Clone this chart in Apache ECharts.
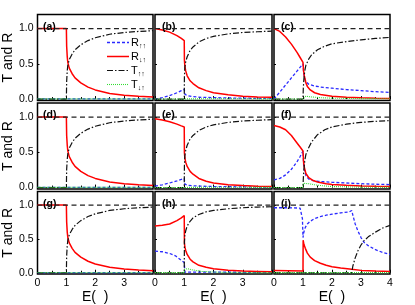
<!DOCTYPE html>
<html><head><meta charset="utf-8">
<script src="https://cdn.jsdelivr.net/npm/echarts@6/dist/echarts.min.js"></script>
<style>html,body{margin:0;padding:0;background:#fff}#c{width:415px;height:305px}</style>
</head><body><div id="c"></div>
<script>
// tick labels
const xTickValues = [0, 1, 2, 3, 4];
const yTickValues = [0, 0.5, 1.0];
const panelLabels = ['(a)','(b)','(c)','(d)','(e)','(f)','(g)','(h)','(i)'];
const seriesBase = ['R','R','T','T'];
const seriesSub = ['↑↑','↓↑','↑↑','↓↑'];
const sumLine = [[0,1],[4,1]];

// panel (a) [E, value]
const aRuu = [[0,0.003],[4,0.003]];
const aRdu = [[0,1],[1,1],[1.01,0.75],[1.03,0.6],[1.05,0.52],[1.1,0.44],[1.2,0.36],[1.3,0.3],[1.5,0.23],[1.75,0.17],[2,0.13],[2.5,0.08],[3,0.055],[3.5,0.04],[4,0.03]];
const aTuu = [[0,0],[1,0],[1.01,0.25],[1.03,0.4],[1.05,0.48],[1.1,0.56],[1.2,0.64],[1.3,0.7],[1.5,0.77],[1.75,0.83],[2,0.87],[2.5,0.92],[3,0.945],[3.5,0.96],[4,0.97]];
const aTdu = [[0,0.003],[4,0.003]];
// panel (b)
const bRuu = [[0,0],[0.25,0.02],[0.5,0.05],[0.75,0.09],[0.9,0.12],[1,0.14],[1.02,0.07],[1.1,0.05],[1.3,0.035],[1.6,0.025],[2,0.02],[3,0.012],[4,0.01]];
const bRdu = [[0,1],[0.25,0.98],[0.5,0.95],[0.75,0.9],[0.9,0.86],[1,0.83],[1.005,0.56],[1.02,0.47],[1.05,0.4],[1.1,0.33],[1.2,0.26],[1.3,0.22],[1.5,0.16],[1.75,0.12],[2,0.09],[2.5,0.06],[3,0.04],[3.5,0.03],[4,0.025]];
const bTuu = [[0,0],[1,0],[1.005,0.3],[1.02,0.45],[1.05,0.53],[1.1,0.6],[1.2,0.69],[1.3,0.74],[1.5,0.81],[1.75,0.86],[2,0.89],[2.5,0.925],[3,0.945],[3.5,0.955],[4,0.965]];
const bTdu = [[0,0.002],[1,0.002],[1.05,0.012],[2,0.006],[4,0.003]];
// panel (c)
const cRuu = [[0,0],[0.2,0.1],[0.4,0.2],[0.6,0.3],[0.8,0.4],[1,0.5],[1.02,0.38],[1.05,0.3],[1.1,0.25],[1.2,0.21],[1.4,0.185],[1.7,0.165],[2,0.155],[2.5,0.135],[3,0.12],[3.5,0.105],[4,0.095]];
const cRdu = [[0,1],[0.2,0.96],[0.4,0.88],[0.6,0.78],[0.8,0.66],[0.9,0.59],[1,0.52],[1.02,0.4],[1.05,0.32],[1.1,0.23],[1.15,0.18],[1.25,0.13],[1.4,0.09],[1.6,0.065],[2,0.04],[2.5,0.025],[3,0.018],[3.5,0.013],[4,0.01]];
const cTuu = [[0,0],[1,0],[1.01,0.15],[1.03,0.28],[1.06,0.4],[1.1,0.48],[1.2,0.57],[1.3,0.63],[1.5,0.7],[1.75,0.75],[2,0.785],[2.5,0.815],[3,0.84],[3.5,0.86],[4,0.875]];
const cTdu = [[0,0.002],[1,0.002],[1.03,0.03],[1.1,0.04],[1.3,0.03],[1.6,0.02],[2,0.013],[3,0.007],[4,0.005]];
// panel (d)
const dRuu = [[0,0.003],[4,0.003]];
const dRdu = [[0,1],[1,1],[1.01,0.74],[1.03,0.6],[1.05,0.52],[1.1,0.44],[1.2,0.36],[1.3,0.3],[1.5,0.23],[1.75,0.17],[2,0.13],[2.5,0.08],[3,0.055],[3.5,0.04],[4,0.03]];
const dTuu = [[0,0],[1,0],[1.01,0.26],[1.03,0.4],[1.05,0.48],[1.1,0.56],[1.2,0.64],[1.3,0.7],[1.5,0.77],[1.75,0.83],[2,0.87],[2.5,0.92],[3,0.945],[3.5,0.96],[4,0.97]];
const dTdu = [[0,0.003],[4,0.003]];
// panel (e)
const eRuu = [[0,0.02],[0.25,0.04],[0.5,0.065],[0.75,0.095],[0.9,0.115],[1,0.13],[1.02,0.05],[1.1,0.035],[1.3,0.025],[1.6,0.02],[2,0.015],[3,0.01],[4,0.008]];
const eRdu = [[0,0.975],[0.25,0.96],[0.5,0.935],[0.75,0.9],[0.9,0.875],[1,0.86],[1.005,0.5],[1.02,0.42],[1.05,0.36],[1.1,0.3],[1.2,0.23],[1.3,0.19],[1.5,0.13],[1.75,0.09],[2,0.065],[2.5,0.04],[3,0.028],[3.5,0.02],[4,0.015]];
const eTuu = [[0,0],[1,0],[1.005,0.3],[1.02,0.45],[1.05,0.53],[1.1,0.6],[1.2,0.69],[1.3,0.74],[1.5,0.81],[1.75,0.86],[2,0.89],[2.5,0.925],[3,0.945],[3.5,0.955],[4,0.965]];
const eTdu = [[0,0.002],[1,0.002],[1.05,0.01],[2,0.005],[4,0.003]];
// panel (f)
const fRuu = [[0,0.11],[0.2,0.13],[0.4,0.18],[0.6,0.26],[0.8,0.37],[0.9,0.44],[1,0.52],[1.02,0.33],[1.05,0.25],[1.1,0.17],[1.2,0.12],[1.35,0.1],[1.5,0.09],[2,0.075],[2.5,0.065],[3,0.055],[3.5,0.048],[4,0.042]];
const fRdu = [[0,0.88],[0.2,0.86],[0.4,0.82],[0.6,0.74],[0.8,0.63],[0.9,0.575],[1,0.52],[1.02,0.36],[1.05,0.28],[1.1,0.2],[1.2,0.14],[1.35,0.1],[1.5,0.08],[1.8,0.056],[2,0.045],[2.5,0.032],[3,0.023],[3.5,0.018],[4,0.015]];
const fTuu = [[0,0],[1,0],[1.01,0.12],[1.03,0.25],[1.06,0.38],[1.1,0.47],[1.2,0.57],[1.3,0.65],[1.5,0.75],[1.75,0.82],[2,0.86],[2.5,0.9],[3,0.925],[3.5,0.94],[4,0.95]];
const fTdu = [[0,0.002],[1,0.002],[1.01,0.06],[1.05,0.065],[1.2,0.055],[1.4,0.04],[1.7,0.025],[2,0.015],[3,0.006],[4,0.003]];
// panel (g)
const gRuu = [[0,0.003],[4,0.003]];
const gRdu = [[0,1],[1,1],[1.01,0.75],[1.03,0.6],[1.05,0.52],[1.1,0.44],[1.2,0.36],[1.3,0.3],[1.5,0.23],[1.75,0.17],[2,0.13],[2.5,0.08],[3,0.055],[3.5,0.04],[4,0.03]];
const gTuu = [[0,0],[1,0],[1.01,0.25],[1.03,0.4],[1.05,0.48],[1.1,0.56],[1.2,0.64],[1.3,0.7],[1.5,0.77],[1.75,0.83],[2,0.87],[2.5,0.92],[3,0.945],[3.5,0.96],[4,0.97]];
const gTdu = [[0,0.003],[4,0.003]];
// panel (h)
const hRuu = [[0,0.32],[0.25,0.31],[0.5,0.285],[0.7,0.25],[0.85,0.2],[1,0.15],[1.02,0.01],[4,0.005]];
const hRdu = [[0,0.69],[0.25,0.7],[0.5,0.72],[0.75,0.77],[0.9,0.81],[1,0.845],[1.005,0.45],[1.02,0.38],[1.05,0.33],[1.1,0.27],[1.2,0.2],[1.3,0.16],[1.5,0.11],[1.75,0.08],[2,0.06],[2.5,0.038],[3,0.025],[3.5,0.02],[4,0.015]];
const hTuu = [[0,0],[1,0],[1.005,0.45],[1.02,0.55],[1.05,0.62],[1.1,0.69],[1.2,0.76],[1.3,0.81],[1.5,0.86],[1.75,0.9],[2,0.92],[2.5,0.945],[3,0.96],[3.5,0.97],[4,0.975]];
const hTdu = [[0,0.002],[1,0.002],[1.01,0.05],[1.1,0.06],[1.3,0.04],[1.6,0.02],[2,0.01],[2.5,0.003],[4,0.002]];
// panel (i)
const iRuu = [[0,0.96],[0.5,0.96],[0.9,0.955],[0.95,0.93],[0.98,0.8],[1,0.52],[1.03,0.6],[1.08,0.67],[1.15,0.72],[1.25,0.76],[1.4,0.8],[1.6,0.83],[1.8,0.85],[2,0.865],[2.3,0.885],[2.6,0.9],[2.68,0.92],[2.72,0.85],[2.8,0.72],[2.9,0.61],[3,0.52],[3.1,0.45],[3.25,0.4],[3.5,0.34],[3.75,0.3],[4,0.27]];
const iRdu = [[0,0.035],[0.5,0.03],[1,0.025],[1.005,0.48],[1.03,0.42],[1.08,0.36],[1.15,0.29],[1.25,0.23],[1.4,0.18],[1.6,0.14],[1.8,0.11],[2,0.09],[2.3,0.07],[2.68,0.05],[3,0.035],[3.5,0.025],[4,0.02]];
const iTuu = [[0,0],[2.68,0],[2.72,0.1],[2.8,0.22],[2.9,0.33],[3,0.41],[3.1,0.47],[3.25,0.53],[3.5,0.6],[3.75,0.66],[4,0.7]];
const iTdu = [[0,0.002],[4,0.002]];

const panelData = [
  [aRuu,aRdu,aTuu,aTdu],[bRuu,bRdu,bTuu,bTdu],[cRuu,cRdu,cTuu,cTdu],
  [dRuu,dRdu,dTuu,dTdu],[eRuu,eRdu,eTuu,eTdu],[fRuu,fRdu,fTuu,fTdu],
  [gRuu,gRdu,gTuu,gTdu],[hRuu,hRdu,hTuu,hTdu],[iRuu,iRdu,iTuu,iTdu]
];

const colLeft = [36, 155, 274];
const colW = [117, 117, 116];
const rowTop = [14.5, 103, 191.5];
const rowH = 86;
const FONT = 'Liberation Sans, Arial, sans-serif';

const styles = [
  {color:'#2a2aff', type:[3,2], width:1.3},
  {color:'#ff0000', type:'solid', width:1.5},
  {color:'#111111', type:[6,2,1.5,2], width:1.2},
  {color:'#33dd33', type:[1,1], width:1.1}
];

const grid = [], xAxis = [], yAxis = [], series = [], title = [];
for (let p = 0; p < 9; p++) {
  const r = Math.floor(p/3), c = p%3;
  grid.push({left: colLeft[c], top: rowTop[r], width: colW[c], height: rowH,
    show: true, borderColor: '#000', borderWidth: 1.5, backgroundColor: 'transparent', containLabel: false});
  xAxis.push({type:'value', gridIndex:p, min:0, max:4, interval:1,
    axisLine:{show:false},
    axisTick:{show:true, inside:true, length:3, lineStyle:{color:'#000'}},
    minorTick:{show:true, splitNumber:2, length:2, lineStyle:{color:'#000'}},
    splitLine:{show:false},
    axisLabel:{show: r===2, fontFamily:FONT, fontSize:10.5, color:'#000', margin:4,
      showMaxLabel: c===2, customValues: xTickValues},
    name: r===2 ? 'E(  )' : '', nameLocation:'middle', nameGap:13,
    nameTextStyle:{fontFamily:FONT, fontSize:14, color:'#000'}
  });
  yAxis.push({type:'value', gridIndex:p, min:-0.02, max:1.2,
    axisLine:{show:false},
    axisTick:{show:true, inside:true, length:2, customValues: yTickValues, lineStyle:{color:'#000'}},
    splitLine:{show:false},
    axisLabel:{show: c===0, customValues: yTickValues, formatter: v => v.toFixed(1),
      fontFamily:FONT, fontSize:10.5, color:'#000', margin:4},
    name: c===0 ? 'T and R' : '', nameLocation:'middle', nameRotate:90, nameGap:18,
    nameTextStyle:{fontFamily:FONT, fontSize:14, color:'#000'}
  });
  panelData[p].forEach((d, k) => {
    series.push({type:'line', xAxisIndex:p, yAxisIndex:p, data:d, symbol:'none', showSymbol:false,
      lineStyle: styles[k], itemStyle:{color: styles[k].color}, animation:false, silent:true, z: 2+k});
  });
  series.push({type:'line', xAxisIndex:p, yAxisIndex:p, data:sumLine, symbol:'none',
    lineStyle:{color:'#222', type:[5,3.5], width:1.3}, animation:false, silent:true, z:10});
  title.push({text: panelLabels[p], left: colLeft[c]+2, top: rowTop[r]+2,
    textStyle:{fontFamily:FONT, fontSize:10.5, fontWeight:'bold', color:'#000'}});
}

// legend drawn as graphic elements inside panel (a)
const legendTop = 42.5, legendStep = 14;
const graphic = [];
seriesBase.forEach((b, k) => {
  const y = legendTop + k*legendStep;
  const st = styles[k];
  graphic.push({type:'line', silent:true, z:20,
    shape:{x1:107, y1:y, x2:129, y2:y},
    style:{stroke: st.color, lineWidth: st.width, lineDash: st.type === 'solid' ? null : st.type}});
  graphic.push({type:'text', silent:true, z:20, x:131, y:y,
    style:{text: '{a|' + b + '}{b|' + seriesSub[k] + '}', verticalAlign:'middle', align:'left',
      rich:{a:{fontFamily:FONT, fontSize:11, fill:'#000', color:'#000'},
            b:{fontFamily:FONT, fontSize:7, fill:'#000', color:'#000', padding:[7,0,0,0]}}}});
});

const chart = echarts.init(document.getElementById('c'), null, {renderer:'canvas'});
chart.setOption({
  animation:false,
  title, grid, xAxis, yAxis, series, graphic
});
</script></body></html>
